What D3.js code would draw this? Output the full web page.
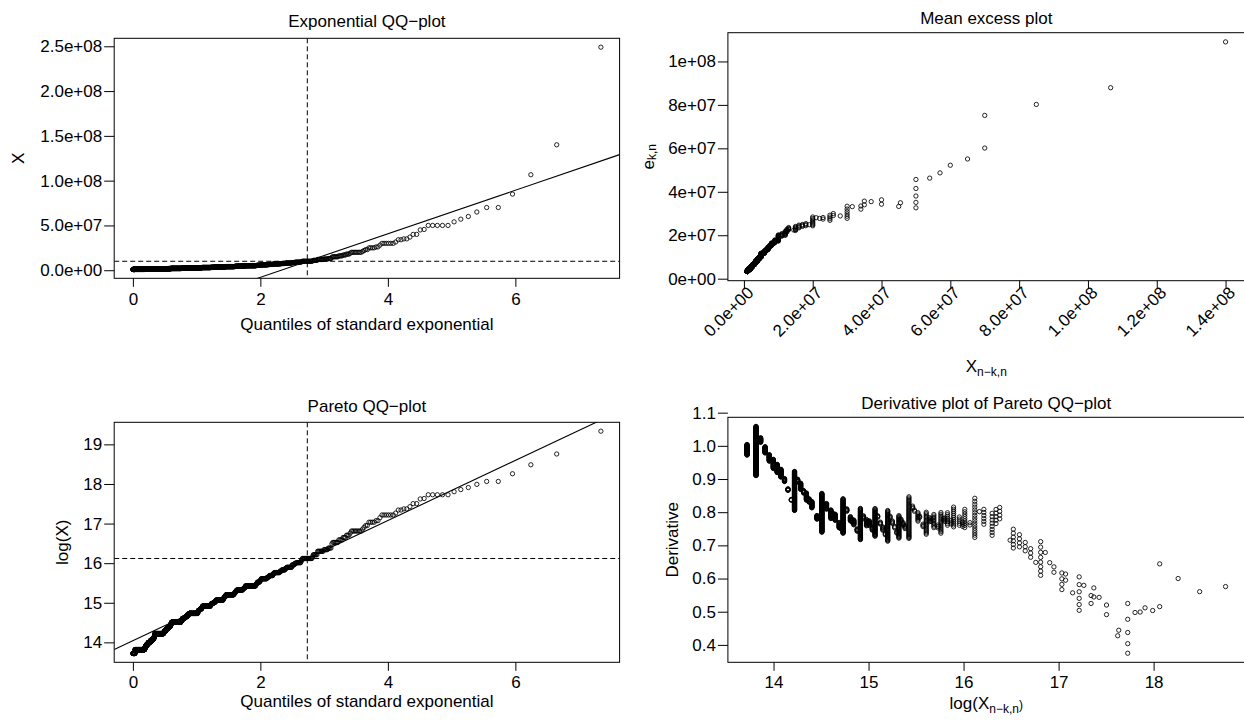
<!DOCTYPE html>
<html>
<head>
<meta charset="utf-8">
<script src="https://cdn.jsdelivr.net/npm/d3@7"></script>
<style>
  body { margin: 0; background: #fff; }
  svg { display: block; font-family: "Liberation Sans", Arial, Helvetica, sans-serif; }
</style>
</head>
<body>
<svg id="chart" width="1244" height="720"></svg>
<script>
// claim amounts (largest first) and how many claims sit at each amount
const claimLevels = [
  2.49e8, 1.4e8, 1.066e8, 8.5e7, 7e7, 6.5e7, 6e7, 5.7e7, 5.4e7, 5e7,
  4.55e7, 4.5e7, 4e7, 3.7e7, 3.5e7, 3.4e7, 3.15e7, 3e7, 2.8e7, 2.6e7,
  2.5e7, 2.3e7, 2.2e7, 2.1e7, 2e7, 1.9e7, 1.8e7, 1.7e7, 1.6e7, 1.5e7,
  1.45e7, 1.3e7, 1.25e7, 1.2e7, 1.1e7, 1.05e7, 1e7, 9.5e6, 9e6, 8.8e6,
  8.5e6, 8e6, 7.8e6, 7.5e6, 7.3e6, 7.2e6, 7e6, 6.8e6, 6.5e6, 6.3e6,
  6.2e6, 6e6, 5.8e6, 5.6e6, 5.5e6, 5.3e6, 5.2e6, 5e6, 4.8e6, 4.7e6,
  4.6e6, 4.5e6, 4.4e6, 4.3e6, 4.2e6, 4.1e6, 4e6, 3.9e6, 3.8e6, 3.7e6,
  3.6e6, 3.5e6, 3.4e6, 3.3e6, 3.25e6, 3.2e6, 3.1e6, 3e6, 2.9e6, 2.8e6,
  2.75e6, 2.7e6, 2.6e6, 2.5e6, 2.45e6, 2.4e6, 2.3e6, 2.25e6, 2.2e6, 2.1e6,
  2e6, 1.9e6, 1.8e6, 1.75e6, 1.7e6, 1.65e6, 1.6e6, 1.55e6, 1.5e6, 1.45e6,
  1.4e6, 1.35e6, 1.3e6, 1.25e6, 1.2e6, 1.15e6, 1.1e6, 1.05e6, 1e6, 9.1e5
]
const claimCounts = [
  1, 1, 1, 1, 2, 1, 1, 1, 1, 5,
  1, 1, 2, 1, 2, 2, 1, 6, 1, 2,
  4, 2, 1, 1, 8, 1, 3, 3, 4, 6,
  1, 4, 5, 8, 6, 1, 16, 2, 9, 3,
  5, 11, 3, 8, 3, 2, 14, 3, 10, 3,
  4, 18, 3, 2, 8, 2, 3, 40, 4, 4,
  4, 27, 3, 3, 4, 3, 42, 3, 6, 4,
  3, 44, 6, 9, 6, 12, 6, 61, 6, 11,
  7, 10, 6, 80, 6, 15, 17, 10, 24, 16,
  116, 13, 21, 12, 24, 9, 21, 10, 140, 4,
  7, 12, 30, 32, 36, 26, 25, 18, 210, 50
]

const thresholdK = 99 // X(n-k,n) used as threshold
const expLineSlope = 2.43e7
const paretoLineSlope = 0.759

const expXTicks = [0, 2, 4, 6]
const expYTicks = [0, 5e7, 1e8, 1.5e8, 2e8, 2.5e8]
const meXTicks = [0, 2e7, 4e7, 6e7, 8e7, 1e8, 1.2e8, 1.4e8]
const meYTicks = [0, 2e7, 4e7, 6e7, 8e7, 1e8]
const paretoYTicks = [14, 15, 16, 17, 18, 19]
const hillXTicks = [14, 15, 16, 17, 18]
const hillYTicks = [0.4, 0.5, 0.6, 0.7, 0.8, 0.9, 1.0, 1.1]

// sorted sample, ascending
const sample = []
claimLevels.forEach((v, i) => { for (let c = 0; c < claimCounts[i]; c++) sample.push(v) })
sample.sort((a, b) => a - b)
const n = sample.length
const logs = sample.map(Math.log)

const expQ = sample.map((v, i) => -Math.log(1 - (i + 1) / (n + 1)))
const expPts = sample.map((v, i) => [expQ[i], v])
const paretoPts = sample.map((v, i) => [expQ[i], logs[i]])

const mePts = []
const hillPts = []
let sumX = 0
let sumLog = 0
for (let k = 1; k < n; k++) {
  sumX += sample[n - k]
  sumLog += logs[n - k]
  const xk = sample[n - k - 1]
  mePts.push([xk, sumX / k - xk])
  hillPts.push([logs[n - k - 1], sumLog / k - logs[n - k - 1]])
}

const thrQ = Math.log((n + 1) / (thresholdK + 1))
const thrX = sample[n - thresholdK - 1]

const FS = 17
const svg = d3.select('#chart')
svg.append('rect').attr('width', 1244).attr('height', 720).attr('fill', '#fff')

function rRange (vals) {
  const lo = d3.min(vals)
  const hi = d3.max(vals)
  const pad = 0.04 * (hi - lo)
  return [lo - pad, hi + pad]
}

function rExp (d, digits) {
  const [m, e] = d.toExponential(digits).split('e')
  return `${m}e${e[0]}${e.slice(1).padStart(2, '0')}`
}

let clipId = 0
function panel (box, pts, o) {
  const g = svg.append('g')
  const x = d3.scaleLinear().domain(rRange(pts.map(d => d[0]))).range([box.x0, box.x1])
  const y = d3.scaleLinear().domain(rRange(pts.map(d => d[1]))).range([box.y1, box.y0])

  const id = 'clip' + (clipId++)
  g.append('clipPath').attr('id', id)
    .append('rect')
    .attr('x', box.x0).attr('y', box.y0)
    .attr('width', box.x1 - box.x0).attr('height', box.y1 - box.y0)

  // points
  g.append('g')
    .selectAll('circle')
    .data(pts)
    .join('circle')
    .attr('cx', d => x(d[0]))
    .attr('cy', d => y(d[1]))
    .attr('r', 2.15)
    .attr('fill', 'none')
    .attr('stroke', '#000')
    .attr('stroke-width', 0.85)

  const lines = g.append('g').attr('clip-path', `url(#${id})`)
  if (o.refLine) {
    const [x0, y0, s] = o.refLine
    const xd = x.domain()
    lines.append('line')
      .attr('x1', x(xd[0])).attr('y1', y(y0 + s * (xd[0] - x0)))
      .attr('x2', x(xd[1])).attr('y2', y(y0 + s * (xd[1] - x0)))
      .attr('stroke', '#000').attr('stroke-width', 1.1)
  }
  if (o.cross) {
    const [cx, cy] = o.cross
    lines.append('line')
      .attr('x1', x(cx)).attr('x2', x(cx))
      .attr('y1', box.y0).attr('y2', box.y1)
      .attr('stroke', '#000').attr('stroke-dasharray', '5,3')
    lines.append('line')
      .attr('x1', box.x0).attr('x2', box.x1)
      .attr('y1', y(cy)).attr('y2', y(cy))
      .attr('stroke', '#000').attr('stroke-dasharray', '5,3')
  }

  g.append('rect')
    .attr('x', box.x0).attr('y', box.y0)
    .attr('width', box.x1 - box.x0).attr('height', box.y1 - box.y0)
    .attr('fill', 'none').attr('stroke', '#000').attr('stroke-width', 1)

  const ax = g.append('g')
    .attr('transform', `translate(0,${box.y1})`)
    .call(d3.axisBottom(x).tickValues(o.xTicks).tickFormat(o.xFmt).tickSize(8.5).tickPadding(o.xPad || 6.3).tickSizeOuter(0))
  const ay = g.append('g')
    .attr('transform', `translate(${box.x0},0)`)
    .call(d3.axisLeft(y).tickValues(o.yTicks).tickFormat(o.yFmt).tickSize(10).tickPadding(2).tickSizeOuter(0))
  for (const a of [ax, ay]) {
    a.select('.domain').remove()
    a.selectAll('line').attr('stroke', '#000')
    a.selectAll('text').attr('font-size', FS).attr('fill', '#000').attr('font-family', null)
  }
  if (o.rotX) {
    ax.selectAll('text')
      .attr('y', 0).attr('dy', '0.35em')
      .attr('text-anchor', 'end')
      .attr('transform', 'translate(6,9) rotate(-45)')
  }

  const cx = (box.x0 + box.x1) / 2
  g.append('text')
    .attr('x', cx).attr('y', o.titleY)
    .attr('text-anchor', 'middle').attr('font-size', FS)
    .text(o.title)

  const xl = g.append('text')
    .attr('x', cx).attr('y', o.xLabY)
    .attr('text-anchor', 'middle').attr('font-size', FS)
  o.xLab.forEach(([t, sub]) => {
    const ts = xl.append('tspan').text(t)
    if (sub) ts.attr('font-size', 12).attr('dy', sub)
  })

  const yl = g.append('text')
    .attr('transform', `translate(${o.yLabX},${(box.y0 + box.y1) / 2}) rotate(-90)`)
    .attr('text-anchor', 'middle').attr('dominant-baseline', 'central')
    .attr('font-size', FS)
  o.yLab.forEach(([t, sub]) => {
    const ts = yl.append('tspan').text(t)
    if (sub) ts.attr('font-size', 12).attr('dy', sub)
  })
}

const fmtInt = d => d3.format('d')(d)

panel({ x0: 114.2, x1: 619.6, y0: 38.3, y1: 278.3 }, expPts, {
  title: 'Exponential QQ\u2212plot',
  titleY: 26.7,
  xTicks: expXTicks,
  yTicks: expYTicks,
  xFmt: fmtInt,
  yFmt: d => rExp(d, 1),
  xLab: [['Quantiles of standard exponential']],
  xLabY: 330,
  yLab: [['X']],
  yLabX: 18,
  refLine: [thrQ, thrX, expLineSlope],
  cross: [thrQ, thrX]
})

panel({ x0: 727.9, x1: 1244.7, y0: 32.7, y1: 280.7 }, mePts, {
  title: 'Mean excess plot',
  titleY: 23.9,
  xTicks: meXTicks,
  yTicks: meYTicks,
  xFmt: d => rExp(d, 1),
  yFmt: d => rExp(d, 0),
  rotX: true,
  xLab: [['X'], ['n\u2212k,n', '0.35em']],
  xLabY: 371.7,
  yLab: [['e'], ['k,n', '0.35em']],
  yLabX: 647.8
})

panel({ x0: 114.2, x1: 619.6, y0: 422.3, y1: 662.3 }, paretoPts, {
  title: 'Pareto QQ\u2212plot',
  titleY: 411.7,
  xTicks: expXTicks,
  yTicks: paretoYTicks,
  xFmt: fmtInt,
  yFmt: fmtInt,
  xPad: 5,
  xLab: [['Quantiles of standard exponential']],
  xLabY: 707,
  yLab: [['log(X)']],
  yLabX: 61.5,
  refLine: [thrQ, Math.log(thrX), paretoLineSlope],
  cross: [thrQ, Math.log(thrX)]
})

panel({ x0: 727.9, x1: 1244.7, y0: 417.3, y1: 662.3 }, hillPts, {
  title: 'Derivative plot of Pareto QQ\u2212plot',
  titleY: 409,
  xTicks: hillXTicks,
  yTicks: hillYTicks,
  xFmt: fmtInt,
  yFmt: d => d.toFixed(1),
  xPad: 5,
  xLab: [['log(X'], ['n\u2212k,n', '0.35em'], [')', '-0.35em']],
  xLabY: 709,
  yLab: [['Derivative']],
  yLabX: 671.6
})
</script>
</body>
</html>
